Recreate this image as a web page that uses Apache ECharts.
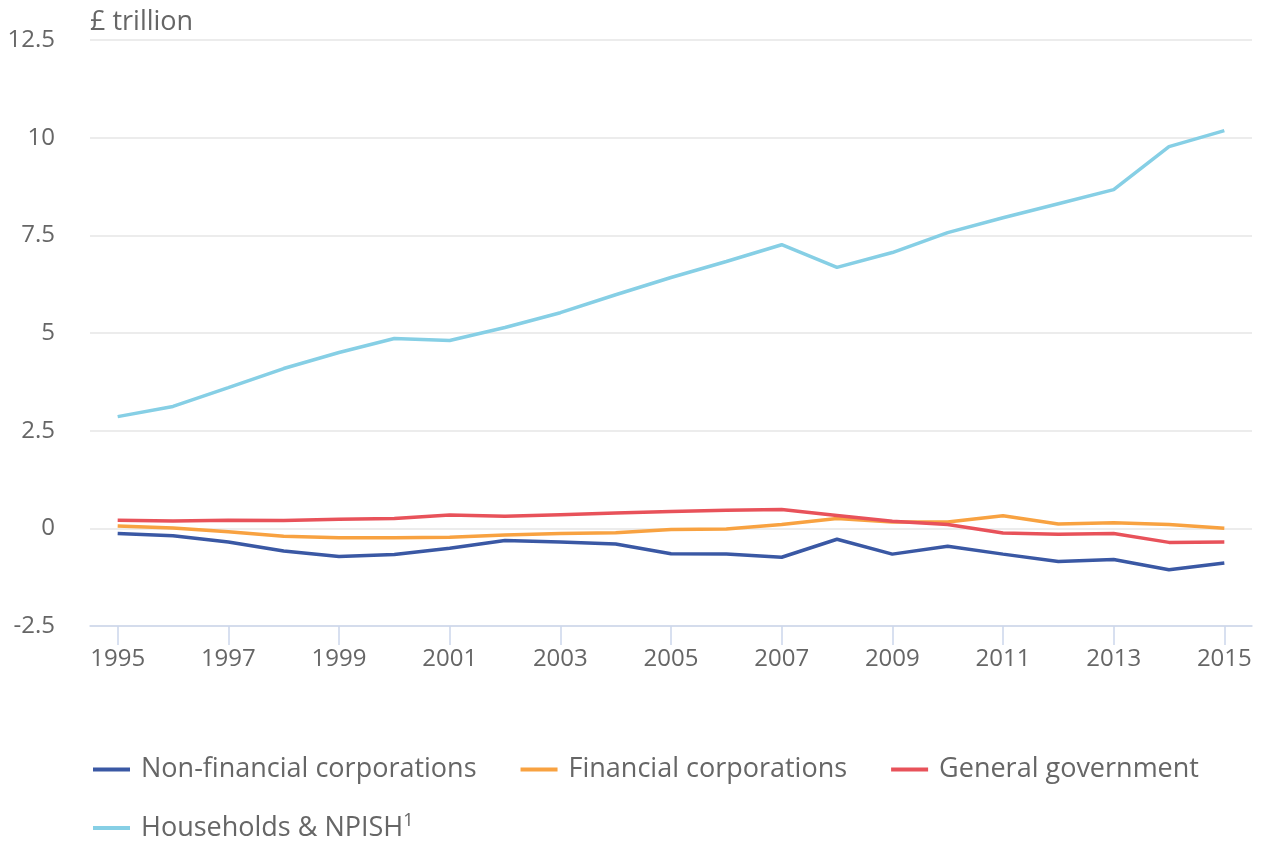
<!DOCTYPE html>
<html>
<head>
<meta charset="utf-8">
<title>£ trillion by sector</title>
<script src="https://cdn.jsdelivr.net/npm/echarts@6/dist/echarts.min.js"></script>
<style>
  html, body { margin: 0; padding: 0; background: #fff; }
  #chart { width: 1262px; height: 841px; }
</style>
</head>
<body>
<div id="chart"></div>
<script>
// data (£ trillion)
var years = ['1995','1996','1997','1998','1999','2000','2001','2002','2003','2004','2005',
             '2006','2007','2008','2009','2010','2011','2012','2013','2014','2015'];
var nonFinancial = [-0.13,-0.19,-0.35,-0.58,-0.72,-0.67,-0.51,-0.31,-0.35,-0.40,-0.65,
                    -0.66,-0.74,-0.28,-0.66,-0.46,-0.66,-0.85,-0.80,-1.06,-0.89];
var financial = [0.06,0.01,-0.09,-0.20,-0.24,-0.24,-0.23,-0.17,-0.13,-0.11,-0.03,
                 -0.02,0.10,0.25,0.16,0.16,0.32,0.11,0.14,0.10,0.00];
var government = [0.21,0.19,0.21,0.20,0.23,0.25,0.34,0.31,0.35,0.39,0.43,
                  0.46,0.48,0.33,0.18,0.10,-0.12,-0.15,-0.13,-0.36,-0.35];
var households = [2.86,3.12,3.60,4.09,4.50,4.86,4.81,5.14,5.52,5.98,6.42,
                  6.83,7.26,6.68,7.06,7.57,7.95,8.31,8.67,9.77,10.18];

var FONT = '"Open Sans", "Noto Sans", sans-serif';
var TXT = '#666666';

var chart = echarts.init(document.getElementById('chart'));

function line(name, data, color) {
  return {
    name: name,
    type: 'line',
    data: data,
    showSymbol: false,
    symbol: 'none',
    lineStyle: { width: 3.5, color: color },
    itemStyle: { color: color }
  };
}

var legendCommon = {
  left: 93,
  padding: 0,
  icon: 'rect',
  itemWidth: 37,
  itemHeight: 4,
  itemGap: 44,
  textStyle: {
    fontFamily: FONT, fontSize: 27, color: TXT, padding: [0, 0, 0, 6],
    rich: { sup: { fontFamily: FONT, fontSize: 18, color: TXT, verticalAlign: 'top', padding: [0, 0, 14, 0] } }
  }
};

var option = {
  animation: false,
  backgroundColor: '#ffffff',
  graphic: [{
    type: 'text', left: 90, top: 9,
    style: { text: '£ trillion', fontFamily: FONT, fontSize: 27, fill: TXT }
  }],
  grid: { left: 90, right: 10, top: 40, bottom: 215, containLabel: false },
  legend: [
    Object.assign({}, legendCommon, {
      top: 756,
      data: ['Non-financial corporations', 'Financial corporations', 'General government']
    }),
    Object.assign({}, legendCommon, {
      top: 812,
      data: ['Households & NPISH'],
      formatter: function (n) { return n + '{sup|1}'; }
    })
  ],
  xAxis: {
    type: 'category',
    data: years,
    boundaryGap: true,
    axisLine: { onZero: false, lineStyle: { color: '#ccd6eb', width: 1.5 } },
    axisTick: { show: true, interval: 1, alignWithLabel: true, length: 19, lineStyle: { color: '#ccd6eb', width: 1.5 } },
    axisLabel: { interval: 1, margin: 21, fontFamily: FONT, fontSize: 24, color: TXT },
    splitLine: { show: false }
  },
  yAxis: {
    type: 'value',
    min: -2.5,
    max: 12.5,
    interval: 2.5,
    axisLine: { show: false },
    axisTick: { show: false },
    axisLabel: { margin: 35, fontFamily: FONT, fontSize: 24, color: TXT },
    splitLine: { lineStyle: { color: '#e6e6e6', width: 1.5 } }
  },
  series: [
    line('Households & NPISH', households, '#86cfe5'),
    line('Non-financial corporations', nonFinancial, '#3a58a4'),
    line('Financial corporations', financial, '#f8a241'),
    line('General government', government, '#e8525a')
  ]
};

chart.setOption(option);
</script>
</body>
</html>
